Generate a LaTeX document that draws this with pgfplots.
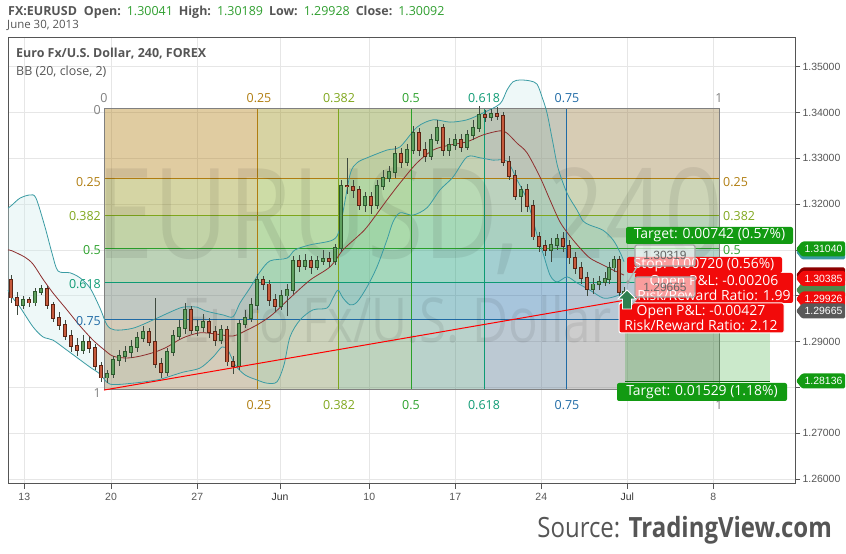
\documentclass[border=0pt]{standalone}
\usepackage{fontspec}
\setmainfont{Open Sans}
\newfontfamily\tickfont{Liberation Sans}
\usepackage{pgfplots}
\pgfplotsset{compat=1.18}
\usepackage{pgfplotstable}
\usepgfplotslibrary{fillbetween}

\definecolor{framec}{HTML}{555555}
\definecolor{gridc}{HTML}{E6E6E6}
\definecolor{txt}{HTML}{555555}
\definecolor{tvg}{HTML}{2E9E2E}
\definecolor{tagg}{HTML}{129A12}
\definecolor{tagr}{HTML}{F20A0A}
\definecolor{c25}{HTML}{B07D10}
\definecolor{c382}{HTML}{7FA61C}
\definecolor{c5}{HTML}{2AA02A}
\definecolor{c618}{HTML}{0E9A74}
\definecolor{c75}{HTML}{1F6AA5}
\definecolor{c1}{HTML}{808080}
\definecolor{upf}{HTML}{5FA05F}
\definecolor{upl}{HTML}{2D5A2D}
\definecolor{dnf}{HTML}{C65A3C}
\definecolor{dnl}{HTML}{5C2414}
\definecolor{wick}{HTML}{3F4A3F}
\definecolor{bbline}{HTML}{3A9BA3}
\definecolor{bbmid}{HTML}{8E2E2E}
\definecolor{bbfill}{HTML}{CDEBEB}
\definecolor{arrowg}{HTML}{2E8050}

% 4h EURUSD candles (x = chart position, prices)
\pgfplotstableread{
x o h l c
11 1.3034 1.3045 1.2985 1.2996
17 1.2996 1.3007 1.2958 1.2980
23 1.2980 1.2999 1.2971 1.2991
29 1.2991 1.2997 1.2976 1.2985
35 1.2985 1.3017 1.2978 1.3008
41 1.3008 1.3023 1.3002 1.3015
47 1.3015 1.3021 1.2971 1.2980
53 1.2980 1.2986 1.2942 1.2951
59 1.2951 1.2964 1.2925 1.2936
65 1.2936 1.2947 1.2903 1.2912
71 1.2912 1.2925 1.2877 1.2890
77 1.2890 1.2908 1.2868 1.2881
83 1.2881 1.2914 1.2873 1.2899
89 1.2899 1.2910 1.2875 1.2886
95 1.2886 1.2894 1.2838 1.2847
101 1.2847 1.2856 1.2812 1.2821
107 1.2821 1.2838 1.2810 1.2829
113 1.2829 1.2868 1.2821 1.2860
119 1.2860 1.2881 1.2847 1.2868
125 1.2868 1.2890 1.2856 1.2877
131 1.2877 1.2903 1.2864 1.2888
137 1.2888 1.2921 1.2877 1.2908
143 1.2908 1.2934 1.2899 1.2921
149 1.2921 1.2930 1.2890 1.2899
155 1.2899 1.2995 1.2842 1.2851
161 1.2851 1.2864 1.2821 1.2834
167 1.2834 1.2886 1.2825 1.2877
173 1.2877 1.2925 1.2868 1.2912
179 1.2912 1.2947 1.2903 1.2930
185 1.2930 1.2984 1.2917 1.2969
191 1.2969 1.2978 1.2917 1.2925
197 1.2925 1.2947 1.2912 1.2932
203 1.2932 1.2960 1.2921 1.2943
209 1.2943 1.2951 1.2908 1.2921
215 1.2921 1.2934 1.2890 1.2903
221 1.2903 1.2936 1.2894 1.2925
227 1.2925 1.2934 1.2847 1.2856
233 1.2856 1.2868 1.2829 1.2847
239 1.2847 1.2947 1.2838 1.2938
245 1.2938 1.2969 1.2930 1.2951
251 1.2951 1.2995 1.2942 1.2980
257 1.2980 1.3047 1.2969 1.3034
263 1.3034 1.3043 1.3012 1.3025
269 1.3025 1.3034 1.2978 1.2991
275 1.2991 1.3004 1.2965 1.2978
281 1.2978 1.3012 1.2969 1.3000
287 1.3000 1.3025 1.2956 1.3012
293 1.3012 1.3087 1.3004 1.3076
299 1.3076 1.3089 1.3052 1.3065
305 1.3065 1.3091 1.3056 1.3076
311 1.3076 1.3087 1.3047 1.3063
317 1.3063 1.3087 1.3056 1.3076
323 1.3076 1.3100 1.3067 1.3080
329 1.3080 1.3096 1.3063 1.3076
335 1.3076 1.3113 1.3067 1.3104
341 1.3104 1.3253 1.3096 1.3240
347 1.3240 1.3300 1.3222 1.3238
353 1.3238 1.3253 1.3214 1.3231
359 1.3231 1.3240 1.3187 1.3198
365 1.3198 1.3227 1.3183 1.3216
371 1.3216 1.3227 1.3179 1.3198
377 1.3198 1.3253 1.3189 1.3240
383 1.3240 1.3274 1.3231 1.3257
389 1.3257 1.3283 1.3248 1.3270
395 1.3270 1.3327 1.3257 1.3309
401 1.3309 1.3322 1.3279 1.3292
407 1.3292 1.3331 1.3283 1.3318
413 1.3318 1.3370 1.3309 1.3355
419 1.3355 1.3366 1.3305 1.3318
425 1.3318 1.3336 1.3292 1.3305
431 1.3305 1.3353 1.3296 1.3340
437 1.3340 1.3384 1.3331 1.3366
443 1.3366 1.3375 1.3305 1.3318
449 1.3318 1.3344 1.3305 1.3329
455 1.3329 1.3353 1.3318 1.3340
461 1.3340 1.3353 1.3314 1.3325
467 1.3325 1.3362 1.3318 1.3351
473 1.3351 1.3384 1.3340 1.3366
479 1.3366 1.3414 1.3357 1.3395
485 1.3395 1.3405 1.3379 1.3390
491 1.3390 1.3408 1.3381 1.3397
497 1.3397 1.3412 1.3384 1.3392
503 1.3392 1.3401 1.3283 1.3292
509 1.3292 1.3305 1.3253 1.3261
515 1.3261 1.3274 1.3209 1.3218
521 1.3218 1.3240 1.3183 1.3231
527 1.3231 1.3244 1.3183 1.3196
533 1.3196 1.3209 1.3122 1.3129
539 1.3129 1.3140 1.3096 1.3109
545 1.3109 1.3122 1.3087 1.3100
551 1.3100 1.3126 1.3074 1.3111
557 1.3111 1.3135 1.3100 1.3124
563 1.3124 1.3140 1.3096 1.3109
569 1.3109 1.3122 1.3070 1.3083
575 1.3083 1.3096 1.3047 1.3061
581 1.3061 1.3074 1.3025 1.3039
587 1.3039 1.3052 1.3000 1.3015
593 1.3015 1.3039 1.3004 1.3025
599 1.3025 1.3043 1.3012 1.3030
605 1.3030 1.3052 1.3021 1.3036
609 1.3036 1.3074 1.3025 1.3061
614 1.3061 1.3087 1.3052 1.3078
619 1.3078 1.3087 1.3000 1.3008
624 1.30041 1.30189 1.29928 1.30092
}\candles

% Bollinger bands (20, close, 2)
\pgfplotstableread{
x p
8 1.3191
12 1.3198
20 1.3213
30 1.3220
36 1.3213
45 1.3150
52 1.3093
58 1.3054
70 1.3050
80 1.3039
90 1.3017
100 1.2973
107 1.2936
115 1.2925
133 1.2929
153 1.2947
170 1.2964
183 1.2975
197 1.2975
205 1.2967
223 1.2958
233 1.2954
240 1.2984
250 1.3017
260 1.3052
270 1.3076
287 1.3082
295 1.3100
310 1.3111
333 1.3122
340 1.3150
350 1.3264
357 1.3290
367 1.3301
387 1.3318
400 1.3325
417 1.3368
433 1.3384
450 1.3379
467 1.3384
483 1.3399
500 1.3419
507 1.3449
513 1.3467
520 1.3471
530 1.3469
537 1.3462
542 1.3434
547 1.3399
553 1.3333
558 1.3279
567 1.3224
577 1.3187
583 1.3163
590 1.3154
603 1.3143
613 1.3122
620 1.3095
624 1.3074
}\bbup
\pgfplotstableread{
x p
8 1.3100
12 1.3098
25 1.3084
33 1.3069
43 1.3036
53 1.3006
67 1.2969
80 1.2934
93 1.2903
103 1.2884
113 1.2868
127 1.2864
140 1.2868
155 1.2877
167 1.2888
183 1.2908
200 1.2919
217 1.2916
233 1.2912
247 1.2925
260 1.2940
273 1.2960
290 1.2995
310 1.3034
330 1.3063
343 1.3100
357 1.3128
367 1.3150
387 1.3209
400 1.3246
417 1.3290
433 1.3318
450 1.3329
467 1.3336
483 1.3351
500 1.3360
507 1.3355
517 1.3333
527 1.3312
540 1.3259
550 1.3209
560 1.3161
570 1.3130
580 1.3104
590 1.3082
603 1.3067
613 1.3056
624 1.3045
}\bbmidt
\pgfplotstableread{
x p
8 1.3012
12 1.2997
20 1.2975
33 1.2932
43 1.2910
53 1.2903
67 1.2881
80 1.2860
90 1.2844
100 1.2829
110 1.2807
133 1.2809
157 1.2816
167 1.2822
183 1.2833
200 1.2842
213 1.2866
222 1.2888
228 1.2881
235 1.2849
245 1.2827
257 1.2816
267 1.2809
277 1.2812
284 1.2849
290 1.2910
300 1.2947
313 1.2969
327 1.2973
333 1.2995
338 1.3012
343 1.2995
350 1.2980
357 1.2986
367 1.3019
377 1.3063
387 1.3122
393 1.3161
400 1.3181
413 1.3176
427 1.3192
440 1.3231
453 1.3259
467 1.3303
480 1.3301
493 1.3296
507 1.3294
517 1.3253
527 1.3209
537 1.3133
543 1.3093
550 1.3045
557 1.3030
567 1.3041
577 1.3028
590 1.3012
603 1.2995
613 1.2997
624 1.3006
}\bblo

\def\ftop{1.34098}
\def\fbot{1.27941}
\newcommand\fiblbl[1]{\fontsize{12.5}{12.5}\selectfont #1}
\newcommand\tvtag[3]{%
  \fill[#2, rounded corners=1.5bp] (796bp,#1bp) -- (802bp,#1bp+7.5bp) -- (845bp,#1bp+7.5bp)
    -- (845bp,#1bp-7.5bp) -- (802bp,#1bp-7.5bp) -- cycle;
  \node[text=white, inner sep=0, font=\tickfont\fontsize{10.5}{10.5}\selectfont] at (823.5bp,#1bp) {#3};}
\newcommand\xlbl[3]{\node[anchor=base, inner sep=0, text=#3, font=\tickfont\fontsize{10.5}{10.5}\selectfont] at ([yshift=-17bp]axis cs:#1,1.258886) {#2};}

\begin{document}
\begin{tikzpicture}
\path (0,0) rectangle (846bp,554bp);
\begin{axis}[
  at={(8bp,70bp)}, anchor=south west,
  scale only axis, width=787bp, height=446bp,
  xmin=8, xmax=795, ymin=1.258886, ymax=1.356266,
  clip=false,
  axis line style={draw=framec, line width=1bp},
  xtick={24.3,111,197.3,280,369.3,455.3,541.3,627.3,713.3},
  xticklabels={,,,,,,,,},
  ytick={1.26,1.27,1.28,1.29,1.30,1.31,1.32,1.33,1.34,1.35},
  yticklabels={1.26000,1.27000,,1.29000,,,1.32000,1.33000,1.34000,1.35000},
  ytick pos=right, yticklabel pos=right, xtick pos=bottom,
  tick align=outside, major tick length=5bp,
  tick style={draw=framec, line width=0.7bp},
  grid=major, grid style={draw=gridc, line width=0.7bp},
  ticklabel style={font=\tickfont\fontsize{10.5}{10.5}\selectfont, text=txt},
  yticklabel style={anchor=west, xshift=-1bp},
]
% --- Fibonacci / Gann box: time columns and price rows
\fill[c25, fill opacity=0.22] (axis cs:104,\ftop) rectangle (axis cs:257.75,\fbot);
\fill[c382, fill opacity=0.22] (axis cs:257.75,\ftop) rectangle (axis cs:338.9,\fbot);
\fill[c5, fill opacity=0.22] (axis cs:338.9,\ftop) rectangle (axis cs:411.5,\fbot);
\fill[c618, fill opacity=0.22] (axis cs:411.5,\ftop) rectangle (axis cs:484.1,\fbot);
\fill[c75, fill opacity=0.22] (axis cs:484.1,\ftop) rectangle (axis cs:566,\fbot);
\fill[c1, fill opacity=0.22] (axis cs:566,\ftop) rectangle (axis cs:719,\fbot);
\fill[c25, fill opacity=0.22] (axis cs:104,\ftop) rectangle (axis cs:719,1.32559);
\fill[c382, fill opacity=0.22] (axis cs:104,1.32559) rectangle (axis cs:719,1.31746);
\fill[c5, fill opacity=0.22] (axis cs:104,1.31746) rectangle (axis cs:719,1.31020);
\fill[c618, fill opacity=0.22] (axis cs:104,1.31020) rectangle (axis cs:719,1.30293);
\fill[c75, fill opacity=0.22] (axis cs:104,1.30293) rectangle (axis cs:719,1.29480);
\fill[c1, fill opacity=0.22] (axis cs:104,1.29480) rectangle (axis cs:719,\fbot);
\draw[c25, line width=1bp] (axis cs:104,1.32559) -- (axis cs:719,1.32559) (axis cs:257.75,\ftop) -- (axis cs:257.75,\fbot);
\draw[c382, line width=1bp] (axis cs:104,1.31746) -- (axis cs:719,1.31746) (axis cs:338.9,\ftop) -- (axis cs:338.9,\fbot);
\draw[c5, line width=1bp] (axis cs:104,1.31020) -- (axis cs:719,1.31020) (axis cs:411.5,\ftop) -- (axis cs:411.5,\fbot);
\draw[c618, line width=1bp] (axis cs:104,1.30293) -- (axis cs:719,1.30293) (axis cs:484.1,\ftop) -- (axis cs:484.1,\fbot);
\draw[c75, line width=1bp] (axis cs:104,1.29480) -- (axis cs:719,1.29480) (axis cs:566,\ftop) -- (axis cs:566,\fbot);
\draw[c1, line width=1bp] (axis cs:104,\ftop) rectangle (axis cs:719,\fbot);
% --- watermark
\node[font=\fontsize{126}{126}\selectfont, xscale=0.82, text=black, text opacity=0.075] at (axis cs:410,1.3162) {EURUSD, 240};
\node[font=\fontsize{62}{62}\selectfont, xscale=0.8, text=black, text opacity=0.075] at (axis cs:397,1.2947) {Euro Fx/U.S. Dollar};
% --- Bollinger bands
\addplot[draw=none, name path=bbU, smooth] table[x=x, y=p] {\bbup};
\addplot[draw=none, name path=bbL, smooth] table[x=x, y=p] {\bblo};
\addplot[bbfill, fill opacity=0.35] fill between[of=bbU and bbL];
\addplot[bbline, line width=0.8bp, smooth] table[x=x, y=p] {\bbup};
\addplot[bbline, line width=0.8bp, smooth] table[x=x, y=p] {\bblo};
\addplot[bbmid, line width=0.8bp, smooth] table[x=x, y=p] {\bbmidt};
% --- candles: wicks, then bodies
\addplot[draw=none, error bars/.cd, y dir=both, y explicit, error mark=none,
  error bar style={draw=wick, line width=0.7bp}]
  table[x=x, y expr={(\thisrow{h}+\thisrow{l})/2}, y error expr={(\thisrow{h}-\thisrow{l})/2}] {\candles};
\addplot[draw=none, restrict expr to domain={\thisrow{c}-\thisrow{o}}{0:1},
  error bars/.cd, y dir=both, y explicit, error mark=none, error bar style={draw=upl, line width=3.8bp}]
  table[x=x, y expr={(\thisrow{o}+\thisrow{c})/2}, y error expr={abs(\thisrow{c}-\thisrow{o})/2+0.00016}] {\candles};
\addplot[draw=none, restrict expr to domain={\thisrow{c}-\thisrow{o}}{0:1},
  error bars/.cd, y dir=both, y explicit, error mark=none, error bar style={draw=upf, line width=2.2bp}]
  table[x=x, y expr={(\thisrow{o}+\thisrow{c})/2}, y error expr={abs(\thisrow{c}-\thisrow{o})/2}] {\candles};
\addplot[draw=none, restrict expr to domain={\thisrow{c}-\thisrow{o}}{-1:-0.000001},
  error bars/.cd, y dir=both, y explicit, error mark=none, error bar style={draw=dnl, line width=3.8bp}]
  table[x=x, y expr={(\thisrow{o}+\thisrow{c})/2}, y error expr={abs(\thisrow{c}-\thisrow{o})/2+0.00016}] {\candles};
\addplot[draw=none, restrict expr to domain={\thisrow{c}-\thisrow{o}}{-1:-0.000001},
  error bars/.cd, y dir=both, y explicit, error mark=none, error bar style={draw=dnf, line width=2.2bp}]
  table[x=x, y expr={(\thisrow{o}+\thisrow{c})/2}, y error expr={abs(\thisrow{c}-\thisrow{o})/2}] {\candles};
% --- trend line
\addplot[red, line width=1bp] coordinates {(104,1.2794) (627,1.2991)};
% --- position tool target zone
\fill[tagg, fill opacity=0.22] (axis cs:625,1.29665) rectangle (axis cs:770,1.28136);
\draw[tagg!70!black, line width=0.8bp] (axis cs:625,1.28136) -- (axis cs:770,1.28136);
% --- date labels under the ticks
\xlbl{24.3}{13}{txt}
\xlbl{111}{20}{txt}
\xlbl{197.3}{27}{txt}
\xlbl{280}{Jun}{black!80}
\xlbl{369.3}{10}{txt}
\xlbl{455.3}{17}{txt}
\xlbl{541.3}{24}{txt}
\xlbl{627.3}{Jul}{black!80}
\xlbl{713.3}{8}{txt}
\end{axis}

% --- header
\node[anchor=base west, inner sep=0, text=txt, font=\fontsize{12.5}{12.5}\selectfont] at (8bp,538bp)
  {\textbf{FX:EURUSD}\hspace{7bp}\textbf{Open:}\hspace{6bp}\textcolor{tvg}{1.30041}\hspace{6bp}\textbf{High:}\hspace{6bp}\textcolor{tvg}{1.30189}\hspace{6bp}\textbf{Low:}\hspace{6bp}\textcolor{tvg}{1.29928}\hspace{6bp}\textbf{Close:}\hspace{6bp}\textcolor{tvg}{1.30092}};
\node[anchor=base west, inner sep=0, text=txt, font=\fontsize{11.5}{11.5}\selectfont] at (7bp,525bp) {June 30, 2013};
\node[anchor=base west, inner sep=0, text=txt, font=\bfseries\fontsize{12.5}{12.5}\selectfont] at (16bp,496bp) {Euro Fx/U.S. Dollar, 240, FOREX};
\node[anchor=base west, inner sep=0, text=txt, font=\fontsize{12.5}{12.5}\selectfont] at (16bp,478bp) {BB (20, close, 2)};

% --- fib labels: top (time)
\begin{scope}[every node/.style={inner sep=0}]
\node[text=c1] at (104bp,456bp) {\fiblbl{0}};
\node[text=c25] at (259bp,456bp) {\fiblbl{0.25}};
\node[text=c382] at (339bp,456bp) {\fiblbl{0.382}};
\node[text=c5] at (411bp,456bp) {\fiblbl{0.5}};
\node[text=c618] at (484bp,456bp) {\fiblbl{0.618}};
\node[text=c75] at (567bp,456bp) {\fiblbl{0.75}};
\node[text=c1] at (719bp,456bp) {\fiblbl{1}};
% bottom (time)
\node[text=c25] at (259bp,149bp) {\fiblbl{0.25}};
\node[text=c382] at (339bp,149bp) {\fiblbl{0.382}};
\node[text=c5] at (411bp,149bp) {\fiblbl{0.5}};
\node[text=c618] at (484bp,149bp) {\fiblbl{0.618}};
\node[text=c75] at (567bp,149bp) {\fiblbl{0.75}};
\node[text=c1] at (719bp,149bp) {\fiblbl{1}};
% left (price)
\node[text=c1, anchor=east] at (101bp,444bp) {\fiblbl{0}};
\node[text=c25, anchor=east] at (101bp,372bp) {\fiblbl{0.25}};
\node[text=c382, anchor=east] at (101bp,338bp) {\fiblbl{0.382}};
\node[text=c5, anchor=east] at (101bp,304bp) {\fiblbl{0.5}};
\node[text=c618, anchor=east] at (101bp,270bp) {\fiblbl{0.618}};
\node[text=c75, anchor=east] at (101bp,233bp) {\fiblbl{0.75}};
\node[text=c1, anchor=east] at (101bp,161bp) {\fiblbl{1}};
% right (price)
\node[text=c25, anchor=west] at (723bp,372bp) {\fiblbl{0.25}};
\node[text=c382, anchor=west] at (723bp,338bp) {\fiblbl{0.382}};
\node[text=c5, anchor=west] at (723bp,304bp) {\fiblbl{0.5}};
\end{scope}

% --- position tool labels
\begin{scope}[every node/.style={text=white, font=\fontsize{14}{15}\selectfont, inner sep=0, align=center}]
\fill[tagg, rounded corners=2bp] (626bp,327bp) rectangle (793bp,310bp);
\node at (709.5bp,318.5bp) {Target: 0.00742 (0.57\%)};
\fill[tagr, rounded corners=2bp] (627bp,297bp) rectangle (782bp,281bp);
\node at (704bp,289bp) {Stop: 0.00720 (0.56\%)};
\fill[tagr, rounded corners=2bp] (635bp,281bp) rectangle (793bp,251bp);
\node at (714bp,266bp) {Open P\&L: -0.00206\\Risk/Reward Ratio: 1.99};
\filldraw[fill=tagr, draw=white, line width=1bp, rounded corners=2bp] (619bp,251bp) rectangle (784bp,221bp);
\node at (701bp,236bp) {Open P\&L: -0.00427\\Risk/Reward Ratio: 2.12};
\draw[black!30, line width=1.3bp] (638bp,289bp) -- (628bp,272bp) (639bp,258bp) -- (629bp,246bp);
\fill[black!40] (628bp,272bp) circle (1.8bp);
\filldraw[fill=arrowg, draw=white, line width=0.8bp] (618bp,255bp) -- (627bp,264bp) -- (636bp,255bp) -- (631.5bp,255bp) -- (631.5bp,245bp) -- (622.5bp,245bp) -- (622.5bp,255bp) -- cycle;
\filldraw[fill=white, fill opacity=0.6, draw=black!35, line width=1.3bp, rounded corners=2bp] (635bp,309bp) rectangle (695bp,288bp);
\node[text=black!60, font=\tickfont\fontsize{12}{12}\selectfont] at (665bp,298.5bp) {1.30319};
\filldraw[fill=white, fill opacity=0.6, draw=black!35, line width=1.3bp, rounded corners=2bp] (635bp,277bp) rectangle (695bp,257bp);
\node[text=black!60, font=\tickfont\fontsize{12}{12}\selectfont] at (665bp,267bp) {1.29665};
\fill[tagg, rounded corners=2bp] (617bp,171bp) rectangle (787bp,153bp);
\node at (702bp,162bp) {Target: 0.01529 (1.18\%)};
\end{scope}

% --- price tags on the right axis
\tvtag{264}{black!40!green!40!gray}{}
\tvtag{302}{bbline}{}
\tvtag{305}{tagg}{1.31040}
\tvtag{279}{red!55!black}{}
\tvtag{275.5}{tagr}{1.30385}
\tvtag{255}{tagr}{1.29926}
\tvtag{243}{black!65}{1.29665}
\tvtag{173}{tagg}{1.28136}

% --- source
\node[anchor=base east, inner sep=0, text=txt, xscale=0.86, font=\fontsize{28}{28}\selectfont] at (832bp,17bp) {Source: \textbf{TradingView.com}};
\pgfresetboundingbox
\useasboundingbox (0,0) rectangle (846bp,554bp);
\end{tikzpicture}
\end{document}
